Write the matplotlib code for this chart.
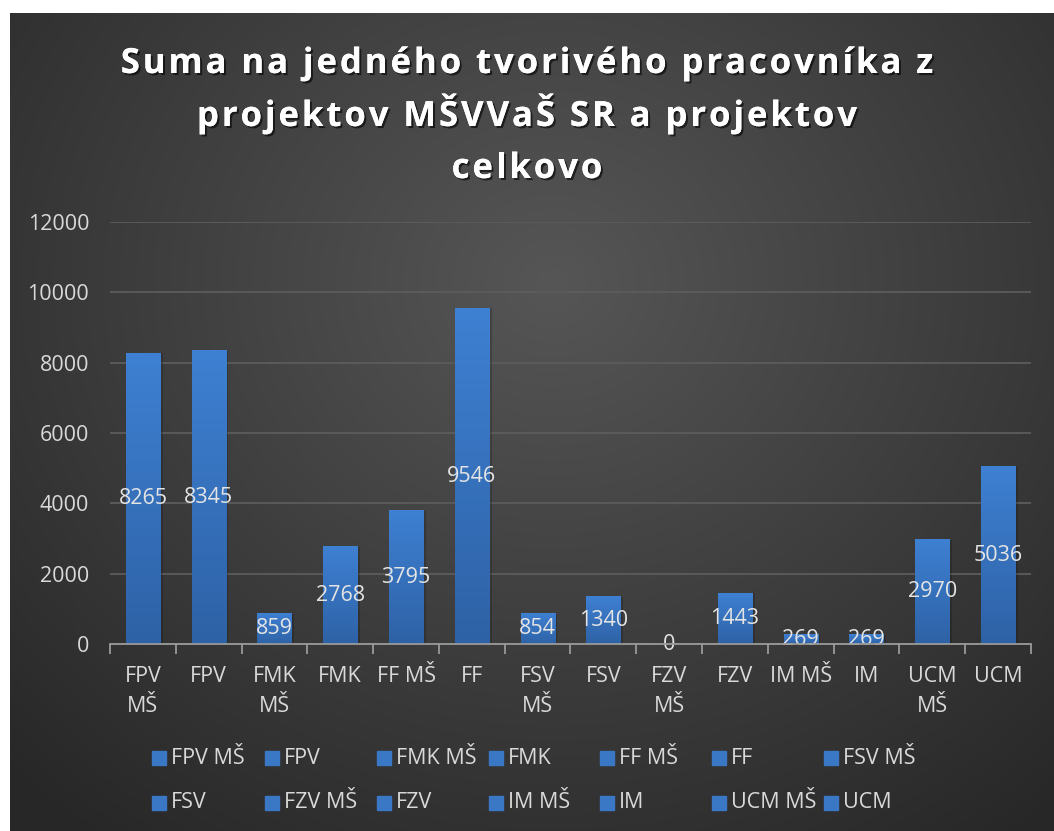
import numpy as np
import matplotlib.pyplot as plt
from matplotlib.patches import Rectangle
import matplotlib.patheffects as pe
from matplotlib.colors import LinearSegmentedColormap
from matplotlib.font_manager import FontProperties, findfont
from matplotlib.ft2font import FT2Font

# =========================
# Data
# =========================
categories = ["FPV MŠ", "FPV", "FMK MŠ", "FMK", "FF MŠ", "FF", "FSV MŠ",
              "FSV", "FZV MŠ", "FZV", "IM MŠ", "IM", "UCM MŠ", "UCM"]
tick_labels = ["FPV\nMŠ", "FPV", "FMK\nMŠ", "FMK", "FF MŠ", "FF", "FSV\nMŠ",
               "FSV", "FZV\nMŠ", "FZV", "IM MŠ", "IM", "UCM\nMŠ", "UCM"]
values = [8265, 8345, 859, 2768, 3795, 9546, 854,
          1340, 0, 1443, 269, 269, 2970, 5036]
y_ticks = [0, 2000, 4000, 6000, 8000, 10000, 12000]
title_lines = ["Suma na jedného tvorivého pracovníka z",
               "projektov MŠVVaŠ SR a projektov",
               "celkovo"]

FONT = "Open Sans"
TXT = "#d9d9d9"
W, H = 1054, 831
FS = 15.5

fig = plt.figure(figsize=(W / 100, H / 100), dpi=100, facecolor="white")

# =========================
# Background (radial gradient)
# =========================
bg = fig.add_axes([10 / W, 0, 1 - 10 / W, 1 - 13 / H])
bg.set_axis_off()
yy, xx = np.mgrid[0:1:400j, 0:1:500j]
d = np.sqrt(((xx - 0.52) / 0.75) ** 2 + ((yy - 0.33) / 0.85) ** 2)
d = np.clip(d, 0, 1)
c0 = np.array([0x56, 0x56, 0x56]) / 255
c1 = np.array([0x27, 0x27, 0x27]) / 255
img = c0[None, None, :] * (1 - d[..., None]) + c1[None, None, :] * d[..., None]
bg.imshow(img, extent=[0, 1, 0, 1], aspect="auto", origin="upper")
bg.set_xlim(0, 1)
bg.set_ylim(0, 1)

# =========================
# Plot
# =========================
ax = fig.add_axes([110 / W, 1 - 644 / H, 921 / W, 422 / H])
ax.patch.set_alpha(0)

bar_cmap = LinearSegmentedColormap.from_list("bar", ["#2e62a6", "#3e80d2"])
grad = np.linspace(0, 1, 100).reshape(-1, 1)
bw = 0.52
x = np.arange(len(values))
for xi, v in zip(x, values):
    if v <= 0:
        continue
    # soft shadow
    ax.add_patch(Rectangle((xi - bw / 2 + 0.04, 0), bw, v, color="black",
                           alpha=0.18, lw=0, zorder=2))
    ax.imshow(grad, cmap=bar_cmap, origin="lower", aspect="auto",
              extent=[xi - bw / 2, xi + bw / 2, 0, v], zorder=3)
ax.set_xlim(-0.5, len(values) - 0.5)
ax.set_ylim(0, 12000)

for xi, v in zip(x, values):
    ax.text(xi, v / 2, str(v), ha="center", va="center", fontsize=FS,
            color="#e4e4e4", family=FONT, zorder=5)

ax.set_yticks(y_ticks)
ax.set_yticklabels([str(t) for t in y_ticks])
ax.yaxis.grid(True, color="#5c5c5c", lw=1.3)
ax.set_axisbelow(True)
ax.tick_params(axis="y", length=0, pad=15, labelsize=FS, labelcolor=TXT)
for lab in ax.get_yticklabels():
    lab.set_family(FONT)

ax.set_xticks(x)
ax.set_xticklabels(tick_labels, fontsize=FS, color=TXT, family=FONT,
                   linespacing=1.55)
ax.set_xticks(np.arange(-0.5, len(values)), minor=True)
ax.tick_params(axis="x", which="major", length=0, pad=16)
ax.tick_params(axis="x", which="minor", length=7, width=1.3, color="#9a9a9a")

for s in ["top", "right", "left"]:
    ax.spines[s].set_visible(False)
ax.spines["bottom"].set_color("#9a9a9a")
ax.spines["bottom"].set_linewidth(1.3)
ax.spines["bottom"].set_zorder(6)

# =========================
# Title (letter-spaced, drawn char by char)
# =========================
title_fs = 25
tfont = FT2Font(findfont(FontProperties(family=FONT, weight="bold")))
tfont.set_size(title_fs, 100)


def advances(s):
    out = []
    for ch in s:
        g = tfont.load_char(ord(ch))
        out.append(g.linearHoriAdvance / 65536)
    return out


shadow = [pe.withSimplePatchShadow(offset=(1.5, -1.5), shadow_rgbFace="black", alpha=0.6),
          pe.Normal()]
track = 2.9
baselines = [73, 126, 178]
for line, base in zip(title_lines, baselines):
    adv = advances(line)
    total = sum(adv) + track * (len(line) - 1)
    px = W / 2 - total / 2
    for ch, a in zip(line, adv):
        if ch != " ":
            fig.text(px / W, 1 - base / H, ch, ha="left", va="baseline",
                     fontsize=title_fs, fontweight="bold", color="white",
                     family=FONT, path_effects=shadow)
        px += a + track

# =========================
# Legend (manual, 7 columns)
# =========================
col_x = [152, 265, 377, 489, 600, 712, 824]
row_y = [758, 803]
for i, name in enumerate(categories):
    cx = col_x[i % 7]
    cy = row_y[i // 7]
    fig.patches.append(Rectangle((cx / W, 1 - (cy + 7) / H), 14 / W, 14 / H,
                                 transform=fig.transFigure, color="#3a78c6",
                                 figure=fig))
    fig.text((cx + 19) / W, 1 - cy / H, name, ha="left", va="center",
             fontsize=FS, color=TXT, family=FONT)

fig.savefig("out.png", dpi=100, facecolor="white")
plt.close()
